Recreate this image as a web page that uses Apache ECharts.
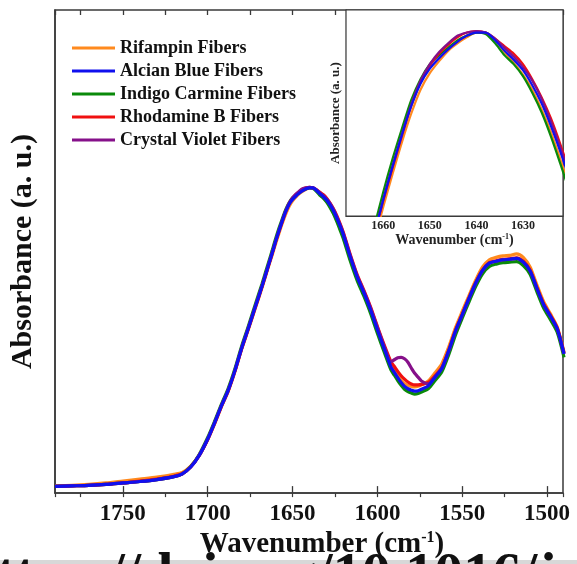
<!DOCTYPE html>
<html>
<head>
<meta charset="utf-8">
<script src="https://cdn.jsdelivr.net/npm/echarts@6/dist/echarts.min.js"></script>
<style>
html,body{margin:0;padding:0;background:#fff;overflow:hidden;}
#chart{width:577px;height:564px;}
</style>
</head>
<body>
<div id="chart"></div>
<script>
const wavenumber = [1790,1780,1770,1760,1750,1740,1730,1720,1715,1710,1705,1700,1696,1692,1688,1684,1680,1676,1672,1668,1666,1664,1662,1660,1658,1656,1654,1652,1650,1648,1646,1644,1642,1640,1638,1636,1634,1632,1630,1628,1626,1624,1622,1620,1616,1612,1608,1604,1600,1596,1592,1590,1588,1586,1584,1582,1580,1578,1576,1574,1570,1566,1562,1558,1554,1550,1546,1542,1538,1534,1530,1526,1522,1518,1514,1510,1506,1502,1498,1494,1490];

const rifampin = [0.015,0.016,0.018,0.021,0.025,0.029,0.033,0.039,0.043,0.056,0.078,0.111,0.143,0.178,0.210,0.251,0.298,0.339,0.382,0.425,0.448,0.471,0.493,0.516,0.538,0.559,0.578,0.594,0.605,0.613,0.620,0.625,0.629,0.632,0.632,0.627,0.619,0.612,0.604,0.594,0.581,0.566,0.548,0.530,0.486,0.446,0.413,0.378,0.337,0.299,0.263,0.253,0.243,0.234,0.227,0.223,0.221,0.220,0.221,0.224,0.232,0.249,0.268,0.302,0.342,0.376,0.409,0.441,0.468,0.483,0.488,0.491,0.492,0.495,0.488,0.468,0.431,0.396,0.371,0.344,0.292];

const alcianBlue = [0.014,0.015,0.016,0.018,0.021,0.024,0.028,0.034,0.040,0.054,0.078,0.112,0.145,0.180,0.212,0.253,0.300,0.342,0.385,0.428,0.451,0.474,0.497,0.521,0.543,0.564,0.583,0.598,0.608,0.615,0.621,0.626,0.630,0.632,0.632,0.627,0.620,0.614,0.607,0.597,0.585,0.570,0.553,0.534,0.489,0.448,0.415,0.379,0.338,0.299,0.261,0.250,0.239,0.229,0.221,0.216,0.213,0.211,0.212,0.215,0.222,0.240,0.258,0.294,0.335,0.369,0.403,0.435,0.461,0.476,0.480,0.483,0.484,0.486,0.478,0.460,0.424,0.390,0.366,0.340,0.288];

const indigoCarmine = [0.014,0.015,0.016,0.018,0.021,0.024,0.028,0.034,0.040,0.055,0.080,0.115,0.148,0.183,0.216,0.257,0.304,0.346,0.390,0.433,0.456,0.479,0.502,0.526,0.548,0.568,0.587,0.601,0.611,0.617,0.622,0.627,0.630,0.632,0.631,0.625,0.617,0.611,0.603,0.592,0.579,0.563,0.545,0.526,0.481,0.441,0.408,0.372,0.331,0.292,0.255,0.244,0.233,0.223,0.215,0.210,0.207,0.205,0.206,0.209,0.216,0.233,0.251,0.286,0.327,0.362,0.396,0.428,0.454,0.469,0.474,0.477,0.478,0.479,0.471,0.453,0.417,0.383,0.359,0.333,0.281];

const rhodamineB = [0.014,0.015,0.016,0.018,0.021,0.025,0.029,0.035,0.040,0.054,0.078,0.111,0.144,0.179,0.211,0.252,0.299,0.341,0.384,0.427,0.450,0.473,0.496,0.520,0.542,0.563,0.583,0.599,0.610,0.618,0.624,0.629,0.632,0.633,0.632,0.628,0.623,0.618,0.611,0.601,0.589,0.575,0.558,0.539,0.494,0.453,0.420,0.385,0.345,0.307,0.272,0.262,0.252,0.243,0.236,0.230,0.226,0.224,0.224,0.225,0.229,0.243,0.260,0.295,0.336,0.370,0.404,0.436,0.462,0.477,0.481,0.484,0.485,0.487,0.480,0.462,0.426,0.392,0.368,0.342,0.290];

const crystalViolet = [0.014,0.015,0.016,0.018,0.021,0.024,0.028,0.034,0.040,0.054,0.078,0.112,0.145,0.180,0.212,0.253,0.300,0.342,0.385,0.428,0.451,0.474,0.497,0.521,0.543,0.564,0.584,0.600,0.611,0.619,0.625,0.630,0.632,0.633,0.632,0.628,0.622,0.616,0.609,0.600,0.588,0.573,0.556,0.537,0.492,0.451,0.418,0.383,0.343,0.304,0.272,0.276,0.280,0.281,0.278,0.271,0.259,0.248,0.240,0.232,0.226,0.241,0.259,0.294,0.335,0.369,0.403,0.435,0.461,0.476,0.480,0.483,0.484,0.486,0.478,0.460,0.424,0.390,0.366,0.340,0.288];

const seriesNames = ['Rifampin Fibers','Alcian Blue Fibers','Indigo Carmine Fibers','Rhodamine B Fibers','Crystal Violet Fibers'];
const seriesColors = ['#FF8A1E','#1010EE','#0A8A0A','#F01010','#86108A'];
const seriesValues = [rifampin, alcianBlue, indigoCarmine, rhodamineB, crystalViolet];
const drawOrder = [0, 2, 3, 4, 1];

const FONT = '"Liberation Serif", "Times New Roman", serif';
const frameColor = '#3a3a3a';

function pairs(vals) { return wavenumber.map((w, i) => [w, vals[i]]); }
function only(step) { return function (v) { return Math.abs(v / step - Math.round(v / step)) < 1e-6 ? String(Math.round(v)) : ''; }; }

const series = [];
drawOrder.forEach(function (k) {
  series.push({
    name: seriesNames[k], type: 'line', xAxisIndex: 0, yAxisIndex: 0,
    data: pairs(seriesValues[k]), showSymbol: false, symbol: 'none', smooth: 0.25,
    lineStyle: { color: seriesColors[k], width: 3.2 }, itemStyle: { color: seriesColors[k] },
    clip: true, animation: false
  });
});
drawOrder.forEach(function (k) {
  series.push({
    name: seriesNames[k], type: 'line', xAxisIndex: 3, yAxisIndex: 1,
    data: pairs(seriesValues[k]), showSymbol: false, symbol: 'none', smooth: 0.25,
    lineStyle: { color: seriesColors[k], width: 2.2 }, itemStyle: { color: seriesColors[k] },
    clip: true, animation: false, z: 5
  });
});

const chart = echarts.init(document.getElementById('chart'), null, { renderer: 'canvas' });
chart.setOption({
  animation: false,
  backgroundColor: '#fff',
  legend: {
    data: seriesNames, orient: 'vertical', left: 72, top: 39, padding: 0,
    icon: 'rect', itemWidth: 43, itemHeight: 3, itemGap: 5, selectedMode: false,
    textStyle: { fontFamily: FONT, fontWeight: 'bold', fontSize: 18, color: '#111', lineHeight: 18 }
  },
  grid: [
    { left: 53, top: 10, right: 14, bottom: 70, show: true, borderColor: frameColor, borderWidth: 1.5, containLabel: false },
    { left: 346, top: 10, width: 217, height: 206, show: true, backgroundColor: '#fff', borderColor: frameColor, borderWidth: 1.2, z: 3 }
  ],
  xAxis: [
    { gridIndex: 0, type: 'value', inverse: true, min: 1490.6, max: 1790, splitNumber: 6,
      axisLine: { show: true, onZero: false, lineStyle: { color: frameColor, width: 1.5 } },
      axisTick: { show: true, inside: true, length: 7, lineStyle: { color: frameColor, width: 1.3 } },
      axisLabel: { show: true, margin: 9, formatter: only(50), showMinLabel: false, showMaxLabel: false,
        fontFamily: FONT, fontWeight: 'bold', fontSize: 23, color: '#111' },
      splitLine: { show: false },
      name: 'Wavenumber (cm{sup|-1})', nameLocation: 'middle', nameGap: 36,
      nameTextStyle: { fontFamily: FONT, fontWeight: 'bold', fontSize: 29, color: '#111', padding: [0, 0, 0, 26],
        rich: { sup: { fontFamily: FONT, fontWeight: 'bold', fontSize: 16, color: '#111', verticalAlign: 'top', padding: [0, 0, 12, 0] } } } },
    { gridIndex: 0, type: 'value', inverse: true, min: 1490.6, max: 1790, splitNumber: 12, minInterval: 25, maxInterval: 25,
      axisLine: { show: false }, axisLabel: { show: false }, splitLine: { show: false },
      axisTick: { show: true, inside: true, length: 4, lineStyle: { color: frameColor, width: 1.2 } } },
    { gridIndex: 0, type: 'value', inverse: true, position: 'top', min: 1490.6, max: 1790, splitNumber: 12, minInterval: 25, maxInterval: 25,
      axisLine: { show: false }, axisLabel: { show: false }, splitLine: { show: false },
      axisTick: { show: true, inside: true, length: 5, lineStyle: { color: frameColor, width: 1.3 } } },
    { gridIndex: 1, type: 'value', inverse: true, min: 1621.4, max: 1668, splitNumber: 5,
      axisLine: { show: true, onZero: false, lineStyle: { color: frameColor, width: 1.2 } },
      axisTick: { show: true, inside: true, length: 4, lineStyle: { color: frameColor, width: 1 } },
      axisLabel: { show: true, margin: 4, formatter: only(10), showMinLabel: false, showMaxLabel: false,
        fontFamily: FONT, fontWeight: 'bold', fontSize: 12, color: '#222' },
      splitLine: { show: false },
      name: 'Wavenumber (cm{sup|-1})', nameLocation: 'middle', nameGap: 15,
      nameTextStyle: { fontFamily: FONT, fontWeight: 'bold', fontSize: 14, color: '#222',
        rich: { sup: { fontFamily: FONT, fontWeight: 'bold', fontSize: 8, color: '#222', verticalAlign: 'top', padding: [0, 0, 6, 0] } } } },
    { gridIndex: 1, type: 'value', inverse: true, min: 1621.4, max: 1668, splitNumber: 10, minInterval: 5, maxInterval: 5,
      axisLine: { show: false }, axisLabel: { show: false }, splitLine: { show: false },
      axisTick: { show: true, inside: true, length: 2.5, lineStyle: { color: frameColor, width: 1 } } }
  ],
  yAxis: [
    { gridIndex: 0, type: 'value', min: 0, max: 1,
      axisLine: { show: true, onZero: false, lineStyle: { color: frameColor, width: 1.5 } },
      axisTick: { show: false }, axisLabel: { show: false }, splitLine: { show: false },
      name: 'Absorbance (a. u.)', nameLocation: 'middle', nameGap: 17,
      nameTextStyle: { fontFamily: FONT, fontWeight: 'bold', fontSize: 30, color: '#111' } },
    { gridIndex: 1, type: 'value', min: 0.51, max: 0.647,
      axisLine: { show: true, onZero: false, lineStyle: { color: frameColor, width: 1.2 } },
      axisTick: { show: false }, axisLabel: { show: false }, splitLine: { show: false },
      name: 'Absorbance (a. u.)', nameLocation: 'middle', nameGap: 4,
      nameTextStyle: { fontFamily: FONT, fontWeight: 'bold', fontSize: 13, color: '#222' } }
  ],
  graphic: [
    { type: 'rect', left: 0, top: 560, shape: { width: 577, height: 4 }, style: { fill: '#d8d8d8' }, z: -2 },
    { type: 'text', left: -4, top: 548, style: { text: 'ttps://doi.org/10.1016/j', font: 'bold 58px "Liberation Serif"', fill: '#111' }, z: -1 }
  ],
  series: series
});
</script>
</body>
</html>
